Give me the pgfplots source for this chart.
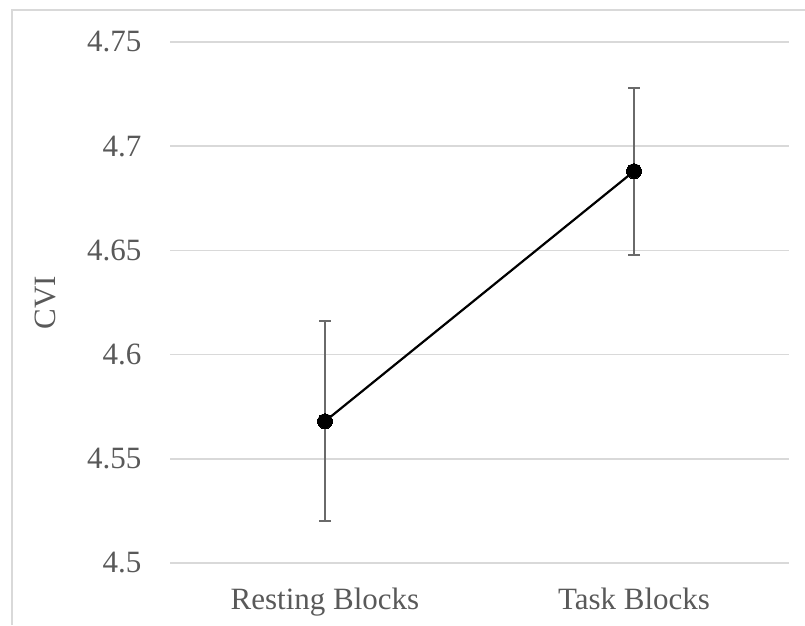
\documentclass[border=0pt]{standalone}
\usepackage{pgfplots}
\pgfplotsset{compat=1.18}
\usepackage{fontspec}
\setmainfont{Liberation Serif}
\definecolor{gridc}{HTML}{D9D9D9}
\definecolor{txt}{HTML}{595959}
\definecolor{ebar}{HTML}{6A6A6A}
\begin{document}
\begin{tikzpicture}
\useasboundingbox (-170.5pt,-62pt) rectangle (634.5pt,563pt);
\draw[gridc, line width=1.5pt] (-158.5pt,-62pt) -- (-158.5pt,553pt) -- (634.5pt,553pt);
\begin{axis}[
  scale only axis, width=618pt, height=521pt,
  xmin=-0.5, xmax=1.5, ymin=4.5, ymax=4.75,
  clip=false,
  axis line style={draw=none},
  major tick length=0pt,
  tick style={draw=none},
  ymajorgrids,
  major grid style={gridc, line width=1.6pt},
  xtick={0,1},
  xticklabels={Resting Blocks, Task Blocks},
  ytick={4.5,4.55,4.6,4.65,4.7,4.75},
  yticklabels={4.5,4.55,4.6,4.65,4.7,4.75},
  yticklabel style={font=\fontsize{31}{36}\selectfont, text=txt, inner sep=0pt, anchor=east, xshift=-29pt},
  xticklabel style={font=\fontsize{31}{36}\selectfont, text=txt, inner sep=0pt, anchor=north, yshift=-25pt},
  ylabel={CVI},
  ylabel style={font=\fontsize{31}{36}\selectfont, text=txt, at={(rel axis cs:-0.203,0.5)}, anchor=center},
]
\addplot[draw=none, mark=none,
  error bars/.cd, y dir=both, y explicit,
  error bar style={ebar, line width=2pt},
  error mark options={ebar, rotate=90, mark size=6pt, line width=2pt}]
  coordinates {(0,4.568) +- (0,0.048) (1,4.688) +- (0,0.040)};
\addplot[black, line width=2.2pt, mark=*, mark size=7.5pt, mark options={fill=black, draw=black, line width=0pt}]
  coordinates {(0,4.568) (1,4.688)};
\end{axis}
\end{tikzpicture}
\end{document}
